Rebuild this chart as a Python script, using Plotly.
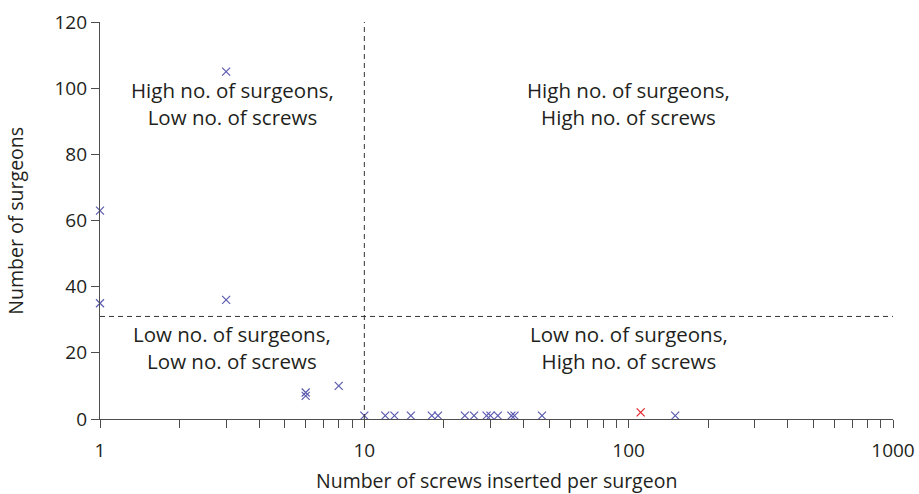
import math
import plotly.graph_objects as go

# Data
screws_blue = [1, 1, 3, 3, 6, 6, 8, 10, 12, 13, 15, 18, 19, 24, 26, 29, 30, 32, 36, 37, 47, 150]
surgeons_blue = [63, 35, 105, 36, 8, 7, 10, 1, 1, 1, 1, 1, 1, 1, 1, 1, 1, 1, 1, 1, 1, 1]
screws_red = [111]
surgeons_red = [2]

x_threshold = 10
y_threshold = 31

quadrant_labels = [
    "High no. of surgeons,<br>Low no. of screws",
    "High no. of surgeons,<br>High no. of screws",
    "Low no. of surgeons,<br>Low no. of screws",
    "Low no. of surgeons,<br>High no. of screws",
]
quadrant_x = [3.16, 100, 3.16, 100]
quadrant_y = [95.5, 95.5, 21.5, 21.5]

x_ticks = [1, 10, 100, 1000]
y_ticks = [0, 20, 40, 60, 80, 100, 120]

x_title = "Number of screws inserted per surgeon"
y_title = "Number of surgeons"

FONT = "Open Sans"
TEXT = "#231f20"
AXIS = "#4d4d4d"
BLUE = "#5b5bb0"
RED = "#e8202a"

fig = go.Figure()
fig.add_trace(go.Scatter(
    x=screws_blue, y=surgeons_blue, mode="markers",
    marker=dict(symbol="x-thin", size=8, line=dict(color=BLUE, width=1.2)),
    showlegend=False, cliponaxis=False,
))
fig.add_trace(go.Scatter(
    x=screws_red, y=surgeons_red, mode="markers",
    marker=dict(symbol="x-thin", size=8, line=dict(color=RED, width=1.2)),
    showlegend=False, cliponaxis=False,
))

fig.add_shape(type="line", xref="x", yref="y", x0=x_threshold, x1=x_threshold,
              y0=0, y1=120, line=dict(color="#333333", width=1, dash="5px,4px"))
fig.add_shape(type="line", xref="x", yref="y", x0=1, x1=1000,
              y0=y_threshold, y1=y_threshold, line=dict(color="#333333", width=1, dash="5px,4px"))

for txt, qx, qy in zip(quadrant_labels, quadrant_x, quadrant_y):
    fig.add_annotation(x=math.log10(qx), y=qy, xref="x", yref="y", text=txt,
                       showarrow=False, font=dict(family=FONT, size=20.5, color=TEXT),
                       align="center")

fig.add_annotation(x=0.5, y=-0.154, xref="paper", yref="paper", text=x_title,
                   showarrow=False, xanchor="center", yanchor="middle",
                   font=dict(family=FONT, size=19.5, color=TEXT))
fig.add_annotation(x=-0.107, y=0.5, xref="paper", yref="paper", text=y_title,
                   showarrow=False, xanchor="center", yanchor="middle", textangle=-90,
                   font=dict(family=FONT, size=19.5, color=TEXT))

minor_vals = [m * d for d in [1, 10, 100] for m in range(2, 10)]

fig.update_xaxes(
    type="log", range=[0, 3], automargin=False,
    tickvals=x_ticks, ticktext=[str(v) for v in x_ticks],
    ticks="outside", ticklen=8, tickcolor=AXIS, tickwidth=1,
    ticklabelstandoff=6,
    minor=dict(tickvals=minor_vals, ticks="outside", ticklen=8, tickcolor=AXIS, tickwidth=1),
    showline=True, linecolor=AXIS, linewidth=1.3,
    showgrid=False, zeroline=False,
    tickfont=dict(family=FONT, size=19, color=TEXT),
)
fig.update_yaxes(
    range=[0, 120], tickvals=y_ticks, automargin=False,
    ticks="outside", ticklen=8, tickcolor=AXIS, tickwidth=1,
    showline=True, linecolor=AXIS, linewidth=1.3,
    showgrid=False, zeroline=False,
    tickfont=dict(family=FONT, size=19, color=TEXT),
)

fig.update_layout(
    width=919, height=494,
    margin=dict(l=100, r=26, t=22, b=75),
    plot_bgcolor="white", paper_bgcolor="white",
)

fig.write_html("out.html", config={"displayModeBar": False},
               post_script="document.body.style.margin='0px';document.body.style.padding='0px';")
